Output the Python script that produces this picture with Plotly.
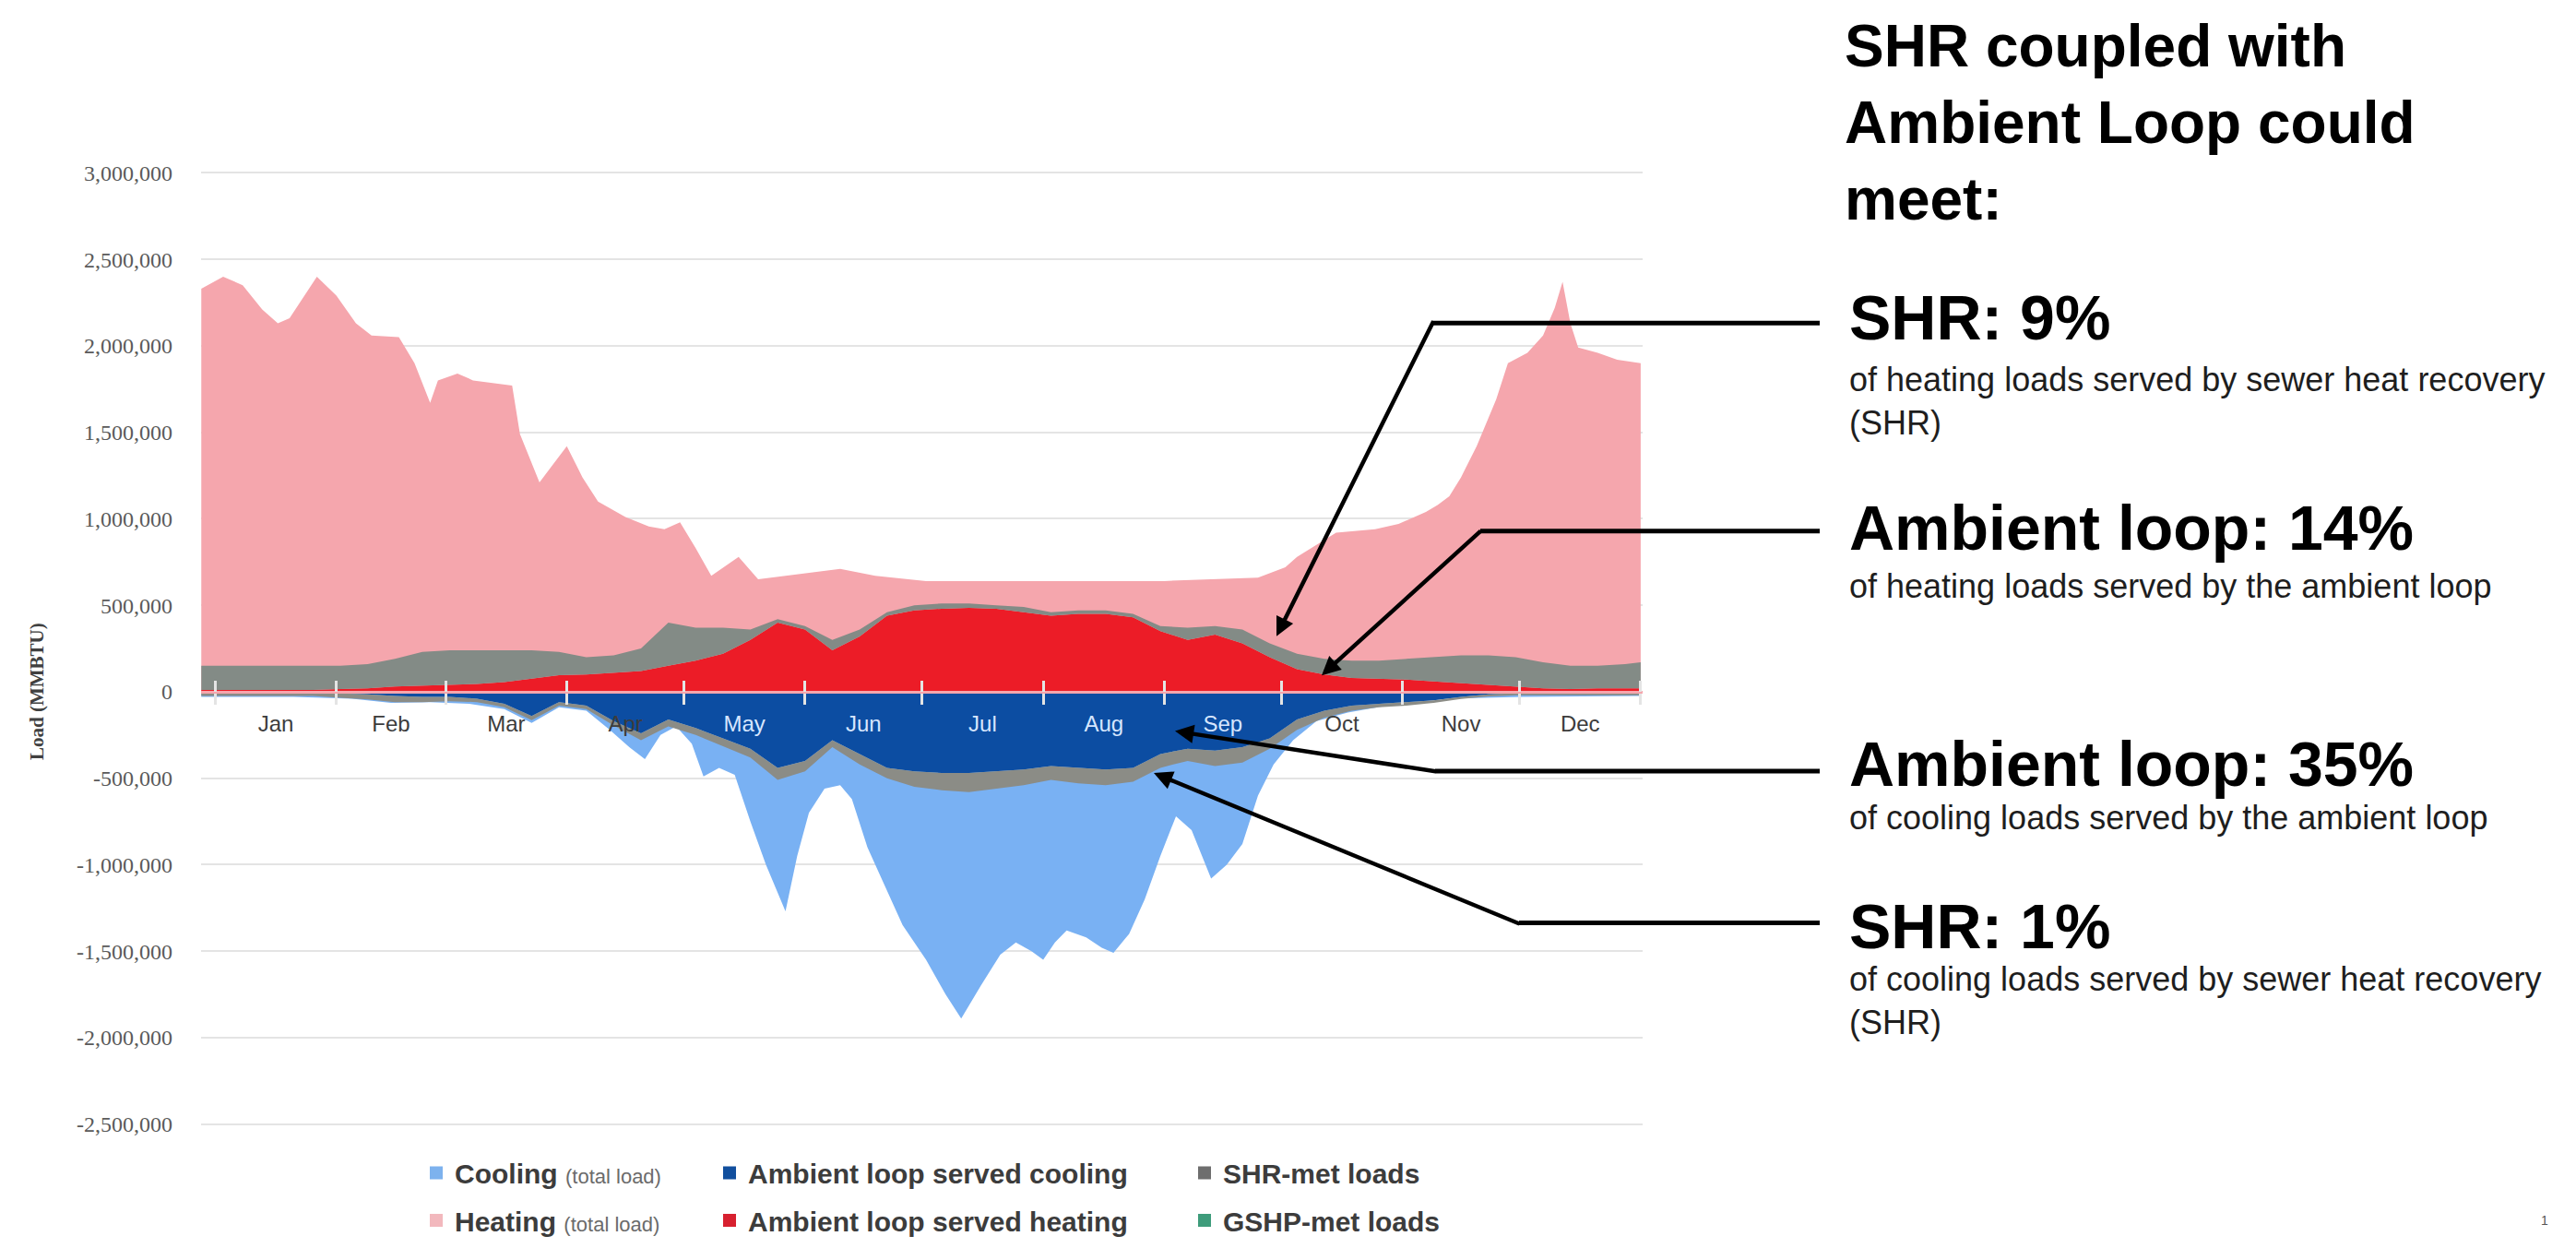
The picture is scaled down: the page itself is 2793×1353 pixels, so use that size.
import plotly.graph_objects as go

# ---------------- data (MMBTU) ----------------
months = ["Jan", "Feb", "Mar", "Apr", "May", "Jun", "Jul", "Aug", "Sep", "Oct", "Nov", "Dec"]
month_start = [0, 31, 59, 90, 120, 151, 181, 212, 243, 273, 304, 334, 365]
month_mid = [15.5, 45, 74.5, 105, 135.5, 166, 196.5, 227.5, 258, 288.5, 319, 349.5]

y_tick_vals = [3000000, 2500000, 2000000, 1500000, 1000000, 500000, 0,
               -500000, -1000000, -1500000, -2000000, -2500000]
y_tick_text = ["3,000,000", "2,500,000", "2,000,000", "1,500,000", "1,000,000", "500,000", "0",
               "-500,000", "-1,000,000", "-1,500,000", "-2,000,000", "-2,500,000"]

# Heating (total load)
heat_days = [-3.6, 2, 7, 12, 16, 19, 26, 31, 36, 40, 47, 51, 55, 57, 62, 66, 76, 78, 83, 90,
             94, 98, 105, 111, 115, 119, 123, 127, 134, 139, 146, 160, 169, 182, 207, 243, 267, 274, 277, 282,
             287, 297, 303, 310, 313, 316, 319, 323, 328, 331, 336, 340, 343, 345, 347, 349, 354, 359, 365]
heat_total = [2330000, 2400000, 2350000, 2210000, 2130000, 2160000, 2400000, 2290000, 2130000, 2060000,
              2050000, 1900000, 1670000, 1800000, 1840000, 1800000, 1770000, 1490000, 1210000, 1420000,
              1240000, 1100000, 1010000, 955000, 940000, 980000, 830000, 670000, 780000, 650000,
              670000, 710000, 670000, 640000, 640000, 640000, 660000, 720000, 780000, 850000,
              920000, 940000, 970000, 1040000, 1080000, 1130000, 1240000, 1420000, 1690000, 1900000,
              1960000, 2060000, 2220000, 2370000, 2130000, 1990000, 1960000, 1920000, 1900000]

# Cooling (total load)
cool_days = [-3.6, 20, 35, 45, 55, 65, 74, 81, 88, 95, 101, 106, 110, 114, 118, 122, 125, 129, 133, 137,
             141, 146, 149, 152, 156, 160, 163, 167, 171, 176, 182, 187, 191, 196, 201, 205, 209, 212, 215, 218,
             223, 227, 230, 234, 238, 242, 246, 250, 255, 259, 263, 267, 271, 276, 282, 290, 300, 315, 335, 365]
cool_total = [-30000, -30000, -40000, -65000, -60000, -70000, -100000, -180000, -90000, -110000,
              -220000, -320000, -390000, -250000, -200000, -300000, -490000, -440000, -480000, -750000,
              -1000000, -1270000, -950000, -700000, -560000, -540000, -620000, -900000, -1100000, -1350000,
              -1550000, -1750000, -1890000, -1700000, -1520000, -1450000, -1500000, -1550000, -1450000, -1380000,
              -1420000, -1480000, -1510000, -1400000, -1200000, -950000, -720000, -800000, -1080000, -1000000,
              -880000, -600000, -420000, -280000, -170000, -120000, -80000, -40000, -30000, -25000]

# Served loads (weekly)
days = [-3.6, 4, 11, 18, 25, 32, 39, 46, 53, 60, 67, 74, 81, 88, 95, 102, 109, 116, 123, 130,
        137, 144, 151, 158, 165, 172, 179, 186, 193, 200, 207, 214, 221, 228, 235, 242, 249, 256, 263, 270,
        277, 284, 291, 298, 305, 312, 319, 326, 333, 340, 347, 354, 361, 365]
ambient_heating = [10000, 10000, 10000, 10000, 10000, 15000, 20000, 30000, 35000, 40000,
                   45000, 55000, 75000, 95000, 100000, 110000, 120000, 150000, 180000, 220000,
                   300000, 400000, 360000, 240000, 320000, 440000, 470000, 480000, 485000, 480000,
                   460000, 440000, 450000, 450000, 430000, 350000, 300000, 330000, 280000, 200000,
                   130000, 100000, 80000, 75000, 70000, 60000, 50000, 40000, 30000, 20000,
                   15000, 20000, 20000, 20000]
shr_heating = [140000, 140000, 140000, 140000, 140000, 135000, 140000, 160000, 195000, 200000,
               195000, 185000, 165000, 135000, 100000, 100000, 130000, 250000, 190000, 150000,
               60000, 20000, 20000, 60000, 40000, 20000, 30000, 30000, 25000, 20000,
               30000, 20000, 20000, 20000, 20000, 30000, 70000, 50000, 80000, 80000,
               90000, 90000, 100000, 105000, 120000, 140000, 160000, 170000, 170000, 150000,
               135000, 130000, 140000, 150000]
ambient_cooling = [-5000, -5000, -5000, -5000, -5000, -10000, -15000, -25000, -30000, -30000,
                   -40000, -70000, -140000, -60000, -80000, -170000, -240000, -160000, -210000, -270000,
                   -330000, -440000, -400000, -280000, -360000, -440000, -460000, -470000, -470000, -460000,
                   -450000, -430000, -440000, -450000, -440000, -360000, -330000, -340000, -320000, -270000,
                   -160000, -110000, -80000, -70000, -60000, -50000, -30000, -15000, -8000, -5000,
                   -5000, -5000, -5000, -5000]
shr_cooling = [-20000, -20000, -20000, -20000, -20000, -25000, -30000, -35000, -30000, -25000,
               -20000, -20000, -25000, -20000, -20000, -25000, -40000, -40000, -40000, -45000,
               -50000, -70000, -60000, -40000, -60000, -60000, -90000, -100000, -110000, -100000,
               -90000, -80000, -90000, -90000, -80000, -80000, -70000, -90000, -90000, -60000,
               -60000, -40000, -30000, -20000, -20000, -15000, -12000, -12000, -12000, -15000,
               -15000, -15000, -15000, -15000]

# ---------------- layout geometry ----------------
W, H = 2793, 1353
ML, MR, MT, MB = 210, 1020, 170, 122
PW, PH = W - ML - MR, H - MT - MB
X_RANGE = [-3.66, 365.5]
Y_RANGE = [-2550000, 3050000]


def pxx(px):
    return (px - ML) / PW


def pxy(py):
    return (H - MB - py) / PH


PINK = "#F5A6AD"
RED = "#EC1C27"
GRAY_H = "#838B86"
LBLUE = "#79B1F3"
DBLUE = "#0C4DA2"
GRAY_C = "#8B8C86"
FONT = "Liberation Sans, Arial, sans-serif"
SERIF = "Liberation Serif, Times New Roman, serif"

fig = go.Figure()

fig.add_trace(go.Scatter(x=heat_days, y=heat_total, mode="lines", fill="tozeroy",
                         fillcolor=PINK, line=dict(width=0, color=PINK),
                         showlegend=False, hoverinfo="skip"))
fig.add_trace(go.Scatter(x=cool_days, y=cool_total, mode="lines", fill="tozeroy",
                         fillcolor=LBLUE, line=dict(width=0, color=LBLUE),
                         showlegend=False, hoverinfo="skip"))
fig.add_trace(go.Scatter(x=days, y=ambient_heating, mode="lines", fill="tozeroy",
                         fillcolor=RED, line=dict(width=0, color=RED),
                         showlegend=False, hoverinfo="skip"))
fig.add_trace(go.Scatter(x=days, y=[a + s for a, s in zip(ambient_heating, shr_heating)],
                         mode="lines", fill="tonexty",
                         fillcolor=GRAY_H, line=dict(width=0, color=GRAY_H),
                         showlegend=False, hoverinfo="skip"))
fig.add_trace(go.Scatter(x=days, y=ambient_cooling, mode="lines", fill="tozeroy",
                         fillcolor=DBLUE, line=dict(width=0, color=DBLUE),
                         showlegend=False, hoverinfo="skip"))
fig.add_trace(go.Scatter(x=days, y=[a + s for a, s in zip(ambient_cooling, shr_cooling)],
                         mode="lines", fill="tonexty",
                         fillcolor=GRAY_C, line=dict(width=0, color=GRAY_C),
                         showlegend=False, hoverinfo="skip"))
# invisible trace so the upward tick axis (x2) exists
fig.add_trace(go.Scatter(x=days, y=ambient_heating, xaxis="x2", mode="lines", opacity=0,
                         line=dict(width=0), showlegend=False, hoverinfo="skip"))

# ---------------- legend (two rows, three columns) ----------------
small = '<span style="font-size:22px;font-weight:normal;color:#6b6b6b">(total load)</span>'
legend_items = [
    ("<b>Cooling</b> " + small, "#7DB2EE", 467, 1275),
    ("<b>Ambient loop served cooling</b>", "#114F9E", 785, 1275),
    ("<b>SHR-met loads</b>", "#6E6E6E", 1300, 1275),
    ("<b>Heating</b> " + small, "#F2B8BD", 467, 1327),
    ("<b>Ambient loop served heating</b>", "#D7202F", 785, 1327),
    ("<b>GSHP-met loads</b>", "#3E9C7B", 1300, 1327),
]
legend_layouts = {}
for i, (name, col, mx, my) in enumerate(legend_items):
    key = "legend" if i == 0 else f"legend{i + 1}"
    fig.add_trace(go.Scatter(x=[None], y=[None], mode="markers", name=name,
                             marker=dict(symbol="square", size=14, color=col),
                             legend=key, showlegend=True, hoverinfo="skip"))
    legend_layouts[key] = dict(x=pxx(mx - 22), y=pxy(my), xanchor="left", yanchor="middle",
                               orientation="h", bgcolor="rgba(0,0,0,0)", borderwidth=0,
                               itemwidth=30, font=dict(family=FONT, size=30, color="#3c3c3c"))

# ---------------- axes ----------------
month_colors = ["#3c3c3c", "#3c3c3c", "#3c3c3c", "#3c3c3c",
                "#d6e6ff", "#d6e6ff", "#d6e6ff", "#d6e6ff", "#d6e6ff",
                "#3c3c3c", "#3c3c3c", "#3c3c3c"]
month_text = [f'<span style="color:{c}">{m}</span>' for m, c in zip(months, month_colors)]
zero_pos = (0 - Y_RANGE[0]) / (Y_RANGE[1] - Y_RANGE[0])

fig.update_layout(
    width=W, height=H, autosize=False,
    margin=dict(l=ML, r=MR, t=MT, b=MB, pad=0),
    paper_bgcolor="white", plot_bgcolor="white",
    hovermode=False,
    xaxis=dict(range=X_RANGE, showgrid=False, zeroline=False, automargin=False,
               tickmode="array", tickvals=month_mid, ticktext=month_text,
               ticks="", anchor="free", position=zero_pos,
               showline=True, linecolor=PINK, linewidth=3, layer="above traces",
               tickfont=dict(family=FONT, size=24, color="#3c3c3c"),
               ticklabelstandoff=12,
               minor=dict(tickmode="array", tickvals=month_start, ticks="outside",
                          ticklen=12, tickwidth=3, tickcolor="#e4e4e4", showgrid=False)),
    xaxis2=dict(range=X_RANGE, overlaying="x", anchor="free", position=zero_pos,
                showgrid=False, zeroline=False, showline=False, showticklabels=False,
                tickmode="array", tickvals=month_start, ticks="inside",
                ticklen=12, tickwidth=3, tickcolor="#e4e4e4", layer="above traces",
                automargin=False),
    yaxis=dict(range=Y_RANGE, tickmode="array", tickvals=y_tick_vals, ticktext=y_tick_text,
               showgrid=True, gridcolor="#e4e4e4", gridwidth=2, zeroline=False,
               showline=False, ticks="", automargin=False, ticklabelstandoff=30,
               tickfont=dict(family=SERIF, size=24, color="#5a5a5a")),
    **legend_layouts,
)

# ---------------- text annotations ----------------
annotations = []
annotations.append(dict(text="<b>Load (MMBTU)</b>", x=pxx(32), y=pxy(748), xref="paper", yref="paper",
                        textangle=-90, showarrow=False, xanchor="center", yanchor="middle",
                        font=dict(family=SERIF, size=21, color="#404040")))

text_blocks = [
    ("<b>SHR coupled with<br>Ambient Loop could<br>meet:</b>", 1990, 125, 64, "black"),
    ("<b>SHR: 9%</b>", 1995, 338, 68, "black"),
    ("of heating loads served by sewer heat recovery<br>(SHR)", 1995, 430, 36, "#1e1e1e"),
    ("<b>Ambient loop: 14%</b>", 1995, 568, 68, "black"),
    ("of heating loads served by the ambient loop", 1995, 632, 36, "#1e1e1e"),
    ("<b>Ambient loop: 35%</b>", 1995, 827, 68, "black"),
    ("of cooling loads served by the ambient loop", 1995, 886, 36, "#1e1e1e"),
    ("<b>SHR: 1%</b>", 1995, 1005, 68, "black"),
    ("of cooling loads served by sewer heat recovery<br>(SHR)", 1995, 1086, 36, "#1e1e1e"),
    ("1", 2745, 1327, 14, "#555555"),
]
for txt, x, y, size, col in text_blocks:
    annotations.append(dict(text=txt, x=pxx(x), y=pxy(y), xref="paper", yref="paper",
                            showarrow=False, xanchor="left", yanchor="middle", align="left",
                            font=dict(family=FONT, size=size, color=col)))

# callouts: (tip px, bend px)
callouts = [
    ((1376, 687), (1547, 344)),
    ((1425, 730), (1599, 572)),
    ((1266, 791), (1550, 835)),
    ((1243, 837), (1641, 1001)),
]
LINE_END = 1965
shapes = []
for (tx, ty), (bx, by) in callouts:
    annotations.append(dict(text="", x=pxx(tx), y=pxy(ty), xref="paper", yref="paper",
                            showarrow=True, arrowhead=2, arrowsize=0.9, arrowwidth=4.5,
                            arrowcolor="black", ax=bx - tx, ay=by - ty, standoff=0))
    shapes.append(dict(type="line", xref="paper", yref="paper",
                       x0=pxx(bx - 2), y0=pxy(by), x1=pxx(LINE_END), y1=pxy(by),
                       line=dict(color="black", width=5)))

fig.update_layout(annotations=annotations, shapes=shapes)

fig.write_html("out.html")
